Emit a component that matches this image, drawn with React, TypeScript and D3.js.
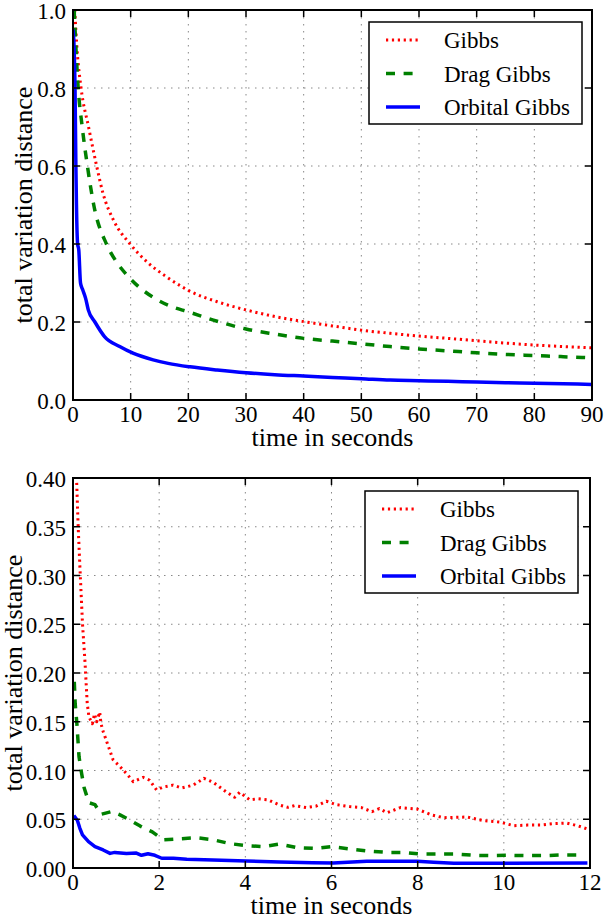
import React from 'react';
import * as d3 from 'd3';

// ---- data: [time in seconds, total variation distance] ----
const longGibbs: [number, number][] = [
  [0.3, 1.0], [0.7, 0.9], [1.4, 0.8], [2.7, 0.7], [4.1, 0.6], [5.2, 0.53], [7.0, 0.462],
  [9.9, 0.4], [13, 0.352], [16, 0.318], [18.7, 0.292], [20, 0.281], [25, 0.252], [30, 0.231],
  [35, 0.214], [40, 0.201], [45, 0.19], [50, 0.179], [55, 0.171], [60, 0.164],
  [65, 0.158], [70, 0.152], [75, 0.146], [80, 0.141], [85, 0.137], [90, 0.134],
];
const longDrag: [number, number][] = [
  [0.2, 1.0], [0.9, 0.8], [1.6, 0.7], [2.5, 0.6], [3.6, 0.5], [5.8, 0.4],
  [7.5, 0.355], [9.5, 0.318], [12, 0.283], [14.5, 0.258], [17, 0.24], [20, 0.226],
  [25, 0.202], [30, 0.182], [35, 0.169], [40, 0.158], [45, 0.151], [50, 0.144],
  [55, 0.137], [60, 0.131], [65, 0.126], [70, 0.121], [75, 0.117], [80, 0.114],
  [85, 0.111], [90, 0.108],
];
const longOrbital: [number, number][] = [
  [0, 0.95], [0.2, 0.9], [0.35, 0.8], [0.5, 0.6], [0.6, 0.5], [0.8, 0.4], [1.0, 0.385],
  [1.3, 0.3], [1.7, 0.282], [2.2, 0.26], [2.65, 0.231], [3.8, 0.2], [5.5, 0.162],
  [8.1, 0.137], [10.4, 0.12], [13.9, 0.103], [16.5, 0.094], [20.3, 0.085], [25, 0.077],
  [30, 0.07], [35, 0.065], [40, 0.0615], [45, 0.058], [50, 0.0547], [55, 0.051],
  [60, 0.0495], [65, 0.048], [70, 0.046], [75, 0.0445], [80, 0.043], [85, 0.0415], [90, 0.04],
];

const shortGibbs: [number, number][] = [
  [0.086, 0.395], [0.12, 0.35], [0.16, 0.309], [0.22, 0.251], [0.28, 0.21], [0.33, 0.169],
  [0.37, 0.155], [0.45, 0.148], [0.5, 0.158], [0.55, 0.15], [0.62, 0.16], [0.65, 0.148],
  [0.7, 0.14], [0.78, 0.13], [0.93, 0.111], [1.09, 0.104], [1.24, 0.097], [1.4, 0.0885],
  [1.63, 0.093], [1.78, 0.09], [1.94, 0.08], [2.09, 0.083], [2.32, 0.085], [2.52, 0.082],
  [2.79, 0.085], [3.04, 0.092], [3.25, 0.088], [3.56, 0.078], [3.75, 0.0725], [3.87, 0.0776],
  [4.1, 0.07], [4.29, 0.071], [4.52, 0.07], [4.79, 0.0646], [4.99, 0.0622], [5.14, 0.064],
  [5.41, 0.062], [5.64, 0.0634], [5.88, 0.0685], [6.11, 0.065], [6.42, 0.063], [6.69, 0.062],
  [6.94, 0.0578], [7.11, 0.061], [7.29, 0.0567], [7.6, 0.062], [7.99, 0.0604], [8.33, 0.0543],
  [8.6, 0.0516], [8.92, 0.052], [9.15, 0.0523], [9.54, 0.0485], [9.92, 0.047], [10.23, 0.0434],
  [10.54, 0.044], [10.85, 0.044], [11.16, 0.0455], [11.47, 0.046], [11.71, 0.0434], [11.94, 0.04],
];
const shortDrag: [number, number][] = [
  [0.03, 0.191], [0.05, 0.169], [0.09, 0.148], [0.14, 0.114], [0.2, 0.097], [0.26, 0.082],
  [0.37, 0.067], [0.51, 0.065], [0.65, 0.055], [0.9, 0.058], [1.09, 0.0545], [1.29, 0.05],
  [1.56, 0.043], [1.84, 0.037], [2.09, 0.029], [2.48, 0.03], [2.87, 0.031], [3.25, 0.029],
  [3.64, 0.025], [4.02, 0.023], [4.41, 0.022], [4.79, 0.0245], [5.18, 0.021], [5.64, 0.02],
  [6.0, 0.0219], [6.43, 0.0195], [6.85, 0.0174], [7.29, 0.016], [7.68, 0.016], [8.06, 0.0144],
  [8.45, 0.0144], [8.84, 0.0144], [9.3, 0.013], [9.69, 0.0127], [10.08, 0.013], [10.54, 0.0127],
  [10.93, 0.0127], [11.32, 0.0134], [11.82, 0.0134],
];
const shortOrbital: [number, number][] = [
  [0.02, 0.0537], [0.1, 0.049], [0.16, 0.0407], [0.22, 0.034], [0.36, 0.027], [0.51, 0.022],
  [0.7, 0.0185], [0.86, 0.015], [0.97, 0.016], [1.24, 0.0148], [1.47, 0.0153], [1.59, 0.013],
  [1.74, 0.0146], [1.9, 0.013], [2.06, 0.01], [2.33, 0.01], [2.64, 0.0089], [3.25, 0.0082],
  [4.02, 0.0072], [4.79, 0.0062], [5.56, 0.0055], [6.04, 0.0051], [6.82, 0.0068], [7.99, 0.0068],
  [8.37, 0.006], [8.84, 0.0048], [9.92, 0.0048], [11.94, 0.0051],
];

const seriesNames = ['Gibbs', 'Drag Gibbs', 'Orbital Gibbs'];
const longXTicks = [0, 10, 20, 30, 40, 50, 60, 70, 80, 90];
const longYTicks = [0.0, 0.2, 0.4, 0.6, 0.8, 1.0];
const shortXTicks = [0, 2, 4, 6, 8, 10, 12];
const shortYTicks = [0.0, 0.05, 0.1, 0.15, 0.2, 0.25, 0.3, 0.35, 0.4];

const FONT = "'Liberation Serif', 'Times New Roman', Times, 'DejaVu Serif', serif";
const styles = [
  { color: '#ff0000', dash: '2.2,3.7', width: 3 },
  { color: '#008000', dash: '9,8.6', width: 3.5 },
  { color: '#0000ff', dash: null, width: 3.5 },
];

type PanelProps = {
  top: number;
  bottom: number;
  left: number;
  right: number;
  xDomain: [number, number];
  yDomain: [number, number];
  xTicks: number[];
  yTicks: number[];
  yFormat: (v: number) => string;
  yLabelX: number;
  series: [number, number][][];
  smooth: boolean;
  legendInset: { right: number; top: number };
  clipId: string;
};

const Panel = ({ top, bottom, left, right, xDomain, yDomain, xTicks, yTicks, yFormat, yLabelX, series, smooth, legendInset, clipId }: PanelProps) => {
  const x = d3.scaleLinear().domain(xDomain).range([left, right]);
  const y = d3.scaleLinear().domain(yDomain).range([bottom, top]);
  const line = d3.line<[number, number]>()
    .x(d => x(d[0]))
    .y(d => y(d[1]))
    .curve(smooth ? d3.curveMonotoneX : d3.curveLinear);
  const tickLen = 7;

  const lgW = 213, lgH = 102;
  const lgX = right - legendInset.right - lgW;
  const lgY = top + legendInset.top;
  const rows = [18, 51.5, 85];

  return (
    <g>
      <defs>
        <clipPath id={clipId}>
          <rect x={left} y={top} width={right - left} height={bottom - top} />
        </clipPath>
      </defs>
      {/* grid */}
      {xTicks.map(t => (
        <line key={'gx' + t} x1={x(t)} x2={x(t)} y1={top} y2={bottom} stroke="#888" strokeWidth={1} strokeDasharray="1.5,5.5" />
      ))}
      {yTicks.map(t => (
        <line key={'gy' + t} x1={left} x2={right} y1={y(t)} y2={y(t)} stroke="#888" strokeWidth={1} strokeDasharray="1.5,5.5" />
      ))}
      {/* series */}
      <g clipPath={`url(#${clipId})`}>
        {series.map((s, i) => (
          <path key={i} d={line(s) || ''} fill="none" stroke={styles[i].color} strokeWidth={styles[i].width}
            strokeDasharray={styles[i].dash || undefined} strokeLinejoin="round" />
        ))}
      </g>
      {/* ticks on all four sides, pointing in */}
      {xTicks.map(t => (
        <g key={'tx' + t}>
          <line x1={x(t)} x2={x(t)} y1={bottom} y2={bottom - tickLen} stroke="#000" strokeWidth={1.5} />
          <line x1={x(t)} x2={x(t)} y1={top} y2={top + tickLen} stroke="#000" strokeWidth={1.5} />
          <text x={x(t)} y={bottom + 22} textAnchor="middle" fontSize={23}>{t}</text>
        </g>
      ))}
      {yTicks.map(t => (
        <g key={'ty' + t}>
          <line x1={left} x2={left + tickLen} y1={y(t)} y2={y(t)} stroke="#000" strokeWidth={1.5} />
          <line x1={right} x2={right - tickLen} y1={y(t)} y2={y(t)} stroke="#000" strokeWidth={1.5} />
          <text x={left - 7} y={y(t) + 9} textAnchor="end" fontSize={23}>{yFormat(t)}</text>
        </g>
      ))}
      <rect x={left} y={top} width={right - left} height={bottom - top} fill="none" stroke="#000" strokeWidth={2} />
      {/* axis labels */}
      <text x={(left + right) / 2} y={bottom + 46} textAnchor="middle" fontSize={26}>time in seconds</text>
      <text transform={`translate(${yLabelX}, ${(top + bottom) / 2}) rotate(-90)`} textAnchor="middle" fontSize={26}>
        total variation distance
      </text>
      {/* legend */}
      <rect x={lgX} y={lgY} width={lgW} height={lgH} fill="#fff" stroke="#000" strokeWidth={1.5} />
      {seriesNames.map((name, i) => (
        <g key={name}>
          <line x1={lgX + 17} x2={lgX + 51} y1={lgY + rows[i]} y2={lgY + rows[i]} stroke={styles[i].color}
            strokeWidth={styles[i].width} strokeDasharray={styles[i].dash || undefined} />
          <text x={lgX + 75} y={lgY + rows[i] + 8} fontSize={23}>{name}</text>
        </g>
      ))}
    </g>
  );
};

export default function App() {
  return (
    <div style={{ position: 'absolute', left: 0, top: 0 }}>
      <svg width={615} height={920} style={{ display: 'block', background: '#fff', fontFamily: FONT }}>
        <Panel top={10} bottom={400} left={73} right={592} xDomain={[0, 90]} yDomain={[0, 1]}
          xTicks={longXTicks} yTicks={longYTicks} yFormat={d3.format('.1f')} yLabelX={32}
          series={[longGibbs, longDrag, longOrbital]} smooth={true}
          legendInset={{ right: 10, top: 12 }} clipId="clipLong" />
        <Panel top={478} bottom={868} left={73} right={590} xDomain={[0, 12]} yDomain={[0, 0.4]}
          xTicks={shortXTicks} yTicks={shortYTicks} yFormat={d3.format('.2f')} yLabelX={22}
          series={[shortGibbs, shortDrag, shortOrbital]} smooth={false}
          legendInset={{ right: 12, top: 13 }} clipId="clipShort" />
      </svg>
    </div>
  );
}
